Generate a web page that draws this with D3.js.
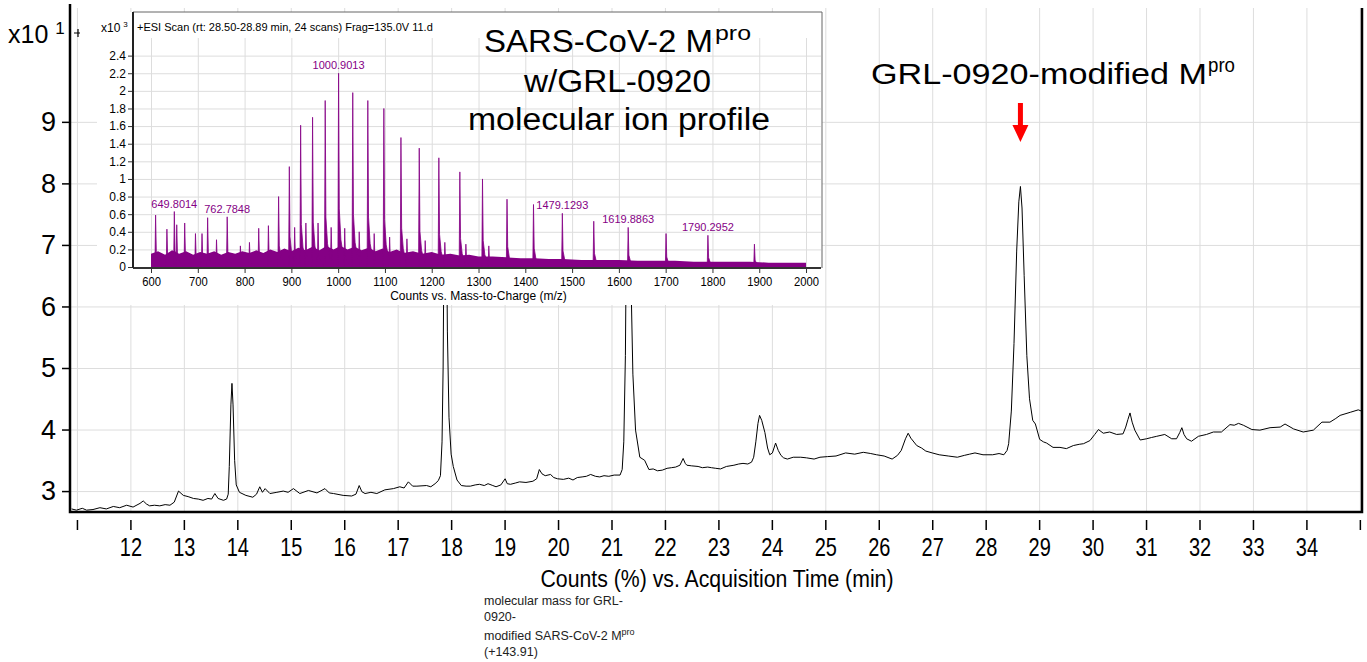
<!DOCTYPE html>
<html>
<head>
<meta charset="utf-8">
<script src="https://cdn.jsdelivr.net/npm/d3@7"></script>
<style>
  body { margin: 0; background: #fff; }
  svg { display: block; font-family: "Liberation Sans", Arial, sans-serif; }
</style>
</head>
<body>
<div id="chart"></div>
<script>
// ---- chromatogram: Counts (%) x10^1 vs acquisition time (min) ----
var ticTime = [10.90,10.99,11.10,11.18,11.30,11.43,11.55,11.68,11.80,11.93,12.05,12.18,12.24,12.30,12.36,12.45,12.55,12.65,12.74,12.82,
  12.90,12.99,13.08,13.18,13.27,13.36,13.45,13.52,13.58,13.64,13.74,13.80,13.83,13.85,13.88,13.90,13.92,13.95,13.98,14.04,
  14.16,14.29,14.36,14.42,14.47,14.52,14.61,14.74,14.86,14.95,15.05,15.17,15.33,15.49,15.64,15.72,15.80,15.98,16.14,16.22,
  16.28,16.33,16.39,16.50,16.61,16.76,16.92,17.04,17.12,17.20,17.28,17.36,17.54,17.62,17.70,17.76,17.80,17.83,17.85,17.87,
  17.89,17.91,17.93,17.96,18.00,18.04,18.11,18.19,18.28,18.36,18.45,18.53,18.62,18.69,18.78,18.84,18.93,19.01,19.05,19.11,
  19.20,19.28,19.40,19.53,19.60,19.65,19.70,19.76,19.86,19.92,19.99,20.10,20.20,20.28,20.36,20.45,20.53,20.61,20.70,20.78,
  20.86,20.95,21.05,21.16,21.20,21.23,21.26,21.29,21.31,21.34,21.37,21.40,21.45,21.53,21.62,21.70,21.78,21.86,21.95,22.04,
  22.12,22.20,22.28,22.34,22.38,22.41,22.50,22.62,22.70,22.80,22.87,22.95,23.04,23.15,23.29,23.38,23.46,23.55,23.62,23.66,
  23.70,23.74,23.77,23.81,23.87,23.92,23.96,24.01,24.07,24.12,24.17,24.22,24.29,24.40,24.54,24.65,24.79,24.90,25.04,25.20,
  25.38,25.55,25.71,25.85,25.96,26.10,26.25,26.35,26.42,26.50,26.55,26.60,26.71,26.80,26.88,27.00,27.13,27.30,27.47,27.60,
  27.70,27.80,27.95,28.13,28.25,28.34,28.40,28.43,28.48,28.53,28.58,28.62,28.65,28.68,28.72,28.77,28.82,28.88,28.93,29.01,
  29.08,29.14,29.26,29.39,29.51,29.64,29.75,29.83,29.95,30.04,30.11,30.20,30.32,30.45,30.57,30.62,30.66,30.70,30.74,30.79,
  30.89,31.01,31.10,31.20,31.35,31.48,31.57,31.63,31.67,31.71,31.76,31.85,31.98,32.13,32.26,32.41,32.57,32.65,32.73,32.82,
  32.98,33.13,33.32,33.51,33.60,33.76,33.94,34.13,34.29,34.44,34.55,34.63,34.82,34.97,35.03];
var ticCounts = [2.71,2.69,2.72,2.69,2.70,2.73,2.71,2.75,2.73,2.77,2.74,2.80,2.84,2.79,2.76,2.77,2.76,2.78,2.77,2.82,
  3.00,2.93,2.91,2.88,2.87,2.85,2.88,2.87,2.96,2.88,2.85,2.87,2.95,3.40,4.40,4.75,4.40,3.50,3.10,2.98,
  2.93,2.90,2.95,3.07,2.98,3.04,2.96,2.98,3.00,2.98,3.04,2.96,3.01,2.97,3.04,2.97,2.96,2.93,2.92,2.95,
  3.09,2.99,2.96,2.98,2.96,3.02,3.04,3.07,3.05,3.15,3.08,3.08,3.09,3.07,3.12,3.17,3.25,3.80,5.00,7.50,
  9.30,7.80,5.60,4.20,3.60,3.40,3.18,3.09,3.08,3.08,3.10,3.11,3.09,3.12,3.09,3.07,3.10,3.20,3.12,3.11,
  3.13,3.15,3.14,3.16,3.20,3.35,3.28,3.25,3.27,3.22,3.20,3.19,3.21,3.18,3.22,3.23,3.24,3.27,3.24,3.23,
  3.25,3.24,3.26,3.26,3.35,3.80,5.20,8.50,10.00,8.60,6.20,4.90,3.99,3.55,3.50,3.35,3.36,3.33,3.34,3.37,
  3.38,3.39,3.42,3.53,3.45,3.42,3.41,3.40,3.38,3.39,3.38,3.37,3.36,3.40,3.42,3.44,3.45,3.44,3.47,3.55,
  3.80,4.10,4.23,4.15,3.95,3.70,3.59,3.62,3.78,3.66,3.58,3.54,3.52,3.55,3.55,3.54,3.52,3.55,3.56,3.57,
  3.62,3.60,3.63,3.61,3.59,3.57,3.52,3.58,3.66,3.85,3.94,3.86,3.74,3.70,3.65,3.62,3.59,3.57,3.55,3.58,
  3.60,3.62,3.59,3.59,3.61,3.59,3.66,3.77,4.30,5.40,6.90,7.70,7.95,7.60,6.50,5.20,4.50,4.15,4.09,3.84,
  3.80,3.78,3.71,3.71,3.69,3.74,3.76,3.77,3.82,3.92,4.00,3.94,3.96,3.92,3.93,4.04,4.16,4.27,4.12,3.99,
  3.83,3.85,3.87,3.89,3.92,3.85,3.85,3.95,4.03,3.92,3.85,3.81,3.89,3.92,3.96,3.96,4.08,4.07,4.10,4.07,
  4.00,3.99,4.03,4.04,4.09,4.01,3.96,3.99,4.12,4.12,4.18,4.23,4.28,4.32,4.30];
var timeTicks = d3.range(11, 36);
var timeLabels = d3.range(12, 35);
var countTicks = [3, 4, 5, 6, 7, 8, 9];
var modifiedPeakTime = 28.65;

// ---- inset: ESI mass spectrum, counts x10^3 vs m/z ----
var peakMz = [609.8,634,649.8014,655,672,695,709,721,740,762.7848,791,810.4,830.2,850.9,872.7,895.6,907,919.8,931,945.3,
  957,972.3,985,1000.9013,1014,1031.2,1045,1063.4,1077,1097.7,1110,1134.2,1147,1173.3,1186,1215.2,1228,1260.1,1273,1308.5,
  1322,1360.9,1417.5,1479.1293,1546.3,1619.8863,1700.8,1790.2952,1889.7];
var peakHeight = [0.59,0.43,0.63,0.48,0.50,0.38,0.38,0.56,0.31,0.57,0.24,0.28,0.44,0.47,0.80,1.14,0.45,1.61,0.50,1.70,
  0.50,1.89,0.45,2.20,0.44,1.98,0.40,1.89,0.38,1.80,0.34,1.47,0.32,1.35,0.30,1.24,0.28,1.08,0.26,1.00,
  0.24,0.77,0.71,0.61,0.52,0.45,0.38,0.36,0.26];
var noiseMz = [600,615,630,645,660,675,690,705,720,735,750,765,780,795,810,825,840,855,870,885,900,915,930,945,960,975,990,
  1005,1020,1035,1050,1065,1080,1095,1110,1125,1140,1160,1180,1200,1220,1240,1260,1280,1300,1330,1360,1390,1420,1450,1480,
  1520,1560,1600,1640,1680,1720,1760,1800,1840,1880,1920,1960,2000];
var noiseTop = [0.15,0.18,0.14,0.19,0.15,0.18,0.14,0.17,0.15,0.18,0.14,0.17,0.15,0.18,0.16,0.19,0.16,0.20,0.17,0.21,
  0.18,0.22,0.19,0.23,0.19,0.24,0.20,0.24,0.20,0.23,0.19,0.22,0.18,0.21,0.17,0.20,0.16,0.18,0.15,0.17,0.14,0.15,0.13,
  0.14,0.12,0.12,0.11,0.10,0.10,0.09,0.09,0.08,0.08,0.08,0.07,0.07,0.07,0.06,0.06,0.06,0.06,0.05,0.05,0.05];
var labelledMz = [649.8014, 762.7848, 1000.9013, 1479.1293, 1619.8863, 1790.2952];
var mzTicks = d3.range(600, 2001, 100);
var specTicks = [0, 0.2, 0.4, 0.6, 0.8, 1, 1.2, 1.4, 1.6, 1.8, 2, 2.2, 2.4];

var purple = "#850085";
var gridColor = "#dddddd";
var plain = function (d) { return String(+d.toFixed(1)); };

var svg = d3.select("#chart").append("svg")
  .attr("width", 1367)
  .attr("height", 662);

// ===== main chromatogram =====
var plot = { left: 70, right: 1362, top: 8, bottom: 512 };

var x = d3.scaleLinear().domain([10.87, 35.04]).range([plot.left, plot.right]);
var y = d3.scaleLinear().domain([2.66, 10.85]).range([plot.bottom, plot.top]);

// grid
svg.append("g")
  .attr("transform", "translate(0," + plot.bottom + ")")
  .call(d3.axisBottom(x).tickValues(timeTicks).tickSize(-(plot.bottom - plot.top)).tickFormat(""))
  .call(function (g) {
    g.select(".domain").remove();
    g.selectAll("line").attr("stroke", gridColor);
  });
svg.append("g")
  .attr("transform", "translate(" + plot.left + ",0)")
  .call(d3.axisLeft(y).tickValues(countTicks).tickSize(-(plot.right - plot.left)).tickFormat(""))
  .call(function (g) {
    g.select(".domain").remove();
    g.selectAll("line").attr("stroke", gridColor);
  });

var line = d3.line()
  .x(function (d, i) { return x(ticTime[i]); })
  .y(function (d) { return y(d); });

svg.append("path")
  .datum(ticCounts)
  .attr("fill", "none")
  .attr("stroke", "#000")
  .attr("stroke-width", 1)
  .attr("stroke-linejoin", "round")
  .attr("d", line);

// frame
svg.append("path")
  .attr("d", "M" + plot.left + ",4V" + plot.bottom + "H" + plot.right + "V" + plot.top)
  .attr("fill", "none")
  .attr("stroke", "#000")
  .attr("stroke-width", 2.5);

// x axis
var xAxis = svg.append("g")
  .attr("transform", "translate(0," + (plot.bottom + 8) + ")")
  .call(d3.axisBottom(x).tickValues(timeTicks).tickSizeInner(10).tickSizeOuter(0).tickPadding(8)
    .tickFormat(function (d) { return timeLabels.indexOf(d) >= 0 ? d : ""; }));
xAxis.select(".domain").remove();
xAxis.selectAll("line").attr("stroke", "#000").attr("stroke-width", 1.5);
xAxis.selectAll("text")
  .attr("fill", "#000")
  .style("font-size", "25px")
  .attr("transform", "scale(0.8,1)");

// y axis
var yAxis = svg.append("g")
  .attr("transform", "translate(" + plot.left + ",0)")
  .call(d3.axisLeft(y).tickValues(countTicks).tickSizeInner(8).tickSizeOuter(0).tickPadding(6));
yAxis.select(".domain").remove();
yAxis.selectAll("line").attr("stroke", "#000").attr("stroke-width", 1.5);
yAxis.selectAll("text").attr("fill", "#000").style("font-size", "27px");

var expo = svg.append("text").attr("x", 8).attr("y", 43).style("font-size", "25px").text("x10");
expo.append("tspan").attr("dx", 7).attr("dy", -9).style("font-size", "17px").text("1");

svg.append("path")
  .attr("d", "M74,33H80M78,29V37")
  .attr("stroke", "#000")
  .attr("stroke-width", 1.2);

svg.append("text")
  .attr("x", 717)
  .attr("y", 587)
  .attr("text-anchor", "middle")
  .style("font-size", "23px")
  .attr("textLength", 353)
  .attr("lengthAdjust", "spacingAndGlyphs")
  .text("Counts (%) vs. Acquisition Time (min)");

// modified peak label and arrow
var ax = x(modifiedPeakTime);
svg.append("text").attr("x", 871).attr("y", 84).style("font-size", "30px")
  .attr("textLength", 336).attr("lengthAdjust", "spacingAndGlyphs")
  .text("GRL-0920-modified M");
svg.append("text").attr("x", 1208).attr("y", 72).style("font-size", "20px")
  .attr("textLength", 27).attr("lengthAdjust", "spacingAndGlyphs")
  .text("pro");

svg.append("path")
  .attr("d", "M" + (ax - 2.5) + ",103H" + (ax + 2.5) + "V125H" + (ax + 8) + "L" + ax + ",142L" + (ax - 8) + ",125H" + (ax - 2.5) + "Z")
  .attr("fill", "#ff0000");

// annotation under the axis
var notes = [["molecular mass for GRL-", 605], ["0920-", 621], ["modified SARS-CoV-2 M", 640], ["(+143.91)", 656]];
notes.forEach(function (n, i) {
  var t = svg.append("text").attr("x", 484).attr("y", n[1]).style("font-size", "12.5px").attr("fill", "#222").text(n[0]);
  if (i == 2) t.append("tspan").attr("dy", -5).style("font-size", "9px").text("pro");
});

// ===== inset spectrum =====
var box = { left: 97, right: 822, top: 12, bottom: 305 };
var ip = { left: 133, right: 821, top: 38, bottom: 268 };

svg.append("rect")
  .attr("x", box.left).attr("y", box.top)
  .attr("width", box.right - box.left).attr("height", box.bottom - box.top)
  .attr("fill", "#fff");
svg.append("path")
  .attr("d", "M" + ip.left + "," + box.top + "H" + box.right + "V" + ip.bottom)
  .attr("fill", "none").attr("stroke", "#666").attr("stroke-width", 1);

var mx = d3.scaleLinear().domain([561.5, 2032]).range([ip.left, ip.right]);
var my = d3.scaleLinear().domain([-0.011, 2.6]).range([ip.bottom, ip.top]);

svg.append("g")
  .attr("transform", "translate(0," + ip.bottom + ")")
  .call(d3.axisBottom(mx).tickValues(mzTicks).tickSize(-(ip.bottom - ip.top)).tickFormat(""))
  .call(function (g) {
    g.select(".domain").remove();
    g.selectAll("line").attr("stroke", gridColor);
  });
svg.append("g")
  .attr("transform", "translate(" + ip.left + ",0)")
  .call(d3.axisLeft(my).tickValues(specTicks.slice(1)).tickSize(-(ip.right - ip.left)).tickFormat(""))
  .call(function (g) {
    g.select(".domain").remove();
    g.selectAll("line").attr("stroke", gridColor);
  });

// noise band
svg.append("path")
  .datum(noiseTop)
  .attr("fill", purple)
  .attr("d", d3.area()
    .x(function (d, i) { return mx(noiseMz[i]); })
    .y0(my(0))
    .y1(function (d) { return my(d); }));

// peaks
svg.append("g")
  .selectAll("path")
  .data(peakHeight)
  .join("path")
  .attr("fill", purple)
  .attr("stroke", purple)
  .attr("stroke-width", 0.8)
  .attr("d", function (h, i) {
    var m = peakMz[i];
    return d3.line()([
      [mx(m - 1.5), my(0)],
      [mx(m), my(h)],
      [mx(m + 1.5), my(h * 0.3)],
      [mx(m + 5), my(h * 0.14)],
      [mx(m + 14), my(0)]
    ]);
  });

// peak labels
svg.append("g")
  .selectAll("text")
  .data(labelledMz)
  .join("text")
  .attr("x", function (m) { return mx(m); })
  .attr("y", function (m) { return my(peakHeight[peakMz.indexOf(m)]) - 4; })
  .attr("text-anchor", "middle")
  .attr("fill", purple)
  .style("font-size", "11px")
  .text(function (m) { return m.toFixed(4); });

// inset axes
var mxAxis = svg.append("g")
  .attr("transform", "translate(0," + ip.bottom + ")")
  .call(d3.axisBottom(mx).tickValues(mzTicks).tickSizeInner(5).tickSizeOuter(0).tickPadding(4).tickFormat(plain));
mxAxis.select(".domain").attr("stroke", "#333").attr("stroke-width", 2)
  .attr("d", "M" + ip.left + ",0H" + ip.right);
mxAxis.selectAll("line").attr("stroke", "#333");
mxAxis.selectAll("text").attr("fill", "#000").style("font-size", "12.5px").attr("transform", "scale(0.9,1)");

var myAxis = svg.append("g")
  .attr("transform", "translate(" + ip.left + ",0)")
  .call(d3.axisLeft(my).tickValues(specTicks).tickSizeInner(5).tickSizeOuter(0).tickPadding(2).tickFormat(plain));
myAxis.select(".domain").remove();
myAxis.selectAll("line").attr("stroke", "#333");
myAxis.selectAll("text").attr("fill", "#000").style("font-size", "12px");
svg.append("line")
  .attr("x1", ip.left).attr("x2", ip.left)
  .attr("y1", box.top).attr("y2", ip.bottom)
  .attr("stroke", "#222").attr("stroke-width", 2);

svg.append("text")
  .attr("x", (mx(600) + mx(2000)) / 2)
  .attr("y", 300)
  .attr("text-anchor", "middle")
  .style("font-size", "12px")
  .text("Counts vs. Mass-to-Charge (m/z)");

var iexp = svg.append("text").attr("x", 101).attr("y", 32).style("font-size", "12px").text("x10");
iexp.append("tspan").attr("dx", 3).attr("dy", -5).style("font-size", "8px").text("3");

svg.append("text")
  .attr("x", 137).attr("y", 31)
  .style("font-size", "11px")
  .text("+ESI Scan (rt: 28.50-28.89 min, 24 scans) Frag=135.0V 11.d");

// inset title
svg.append("text").attr("x", 484).attr("y", 52).style("font-size", "31px")
  .attr("textLength", 229).attr("lengthAdjust", "spacingAndGlyphs").text("SARS-CoV-2 M");
svg.append("text").attr("x", 715).attr("y", 40).style("font-size", "21px")
  .attr("textLength", 36).attr("lengthAdjust", "spacingAndGlyphs").text("pro");
svg.append("text").attr("x", 524).attr("y", 92).style("font-size", "31px")
  .attr("textLength", 187).attr("lengthAdjust", "spacingAndGlyphs").text("w/GRL-0920");
svg.append("text").attr("x", 468).attr("y", 130).style("font-size", "31px")
  .attr("textLength", 302).attr("lengthAdjust", "spacingAndGlyphs").text("molecular ion profile");
</script>
</body>
</html>
